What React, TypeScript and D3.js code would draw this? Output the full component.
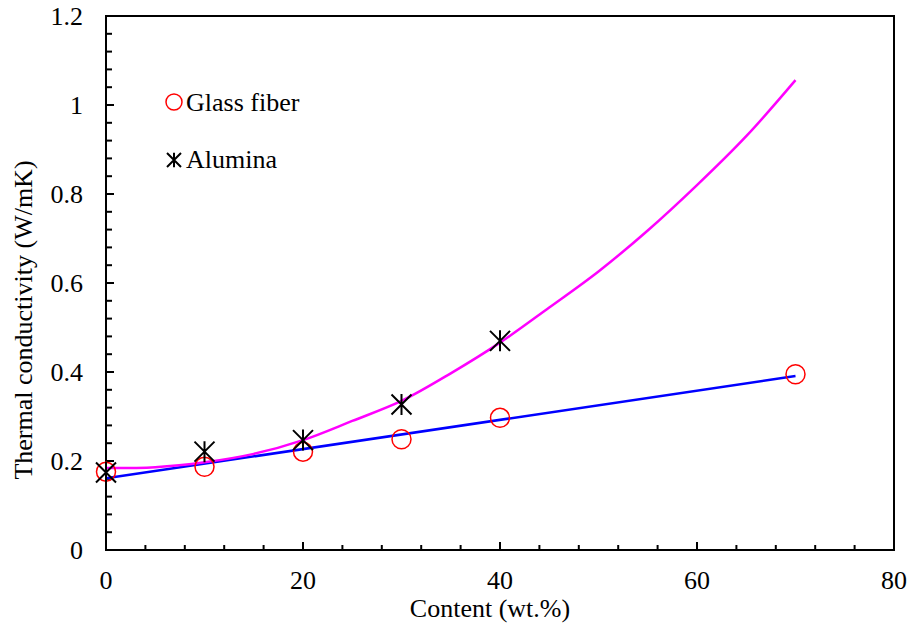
import React, { useEffect, useRef } from "react";
import * as d3 from "d3";

// measured points
const glassX = [0, 10, 20, 30, 40, 70];
const glassY = [0.176, 0.187, 0.221, 0.249, 0.297, 0.395];

const aluminaX = [0, 10, 20, 30, 40];
const aluminaY = [0.174, 0.221, 0.247, 0.327, 0.47];

// trend lines
const glassFitX = [0, 70];
const glassFitY = [0.161, 0.391];

const aluminaFitX = [0, 5, 10, 15, 20, 25, 30, 35, 40, 45, 50, 55, 60, 65, 70];
const aluminaFitY = [
  0.184, 0.186, 0.197, 0.216, 0.247, 0.29, 0.335, 0.397, 0.466, 0.545, 0.626,
  0.718, 0.82, 0.93, 1.056,
];

const xTicks = [0, 20, 40, 60, 80];
const yTicks = [0, 0.2, 0.4, 0.6, 0.8, 1, 1.2];

const App: React.FC = () => {
  const ref = useRef<SVGSVGElement>(null);

  useEffect(() => {
    const width = 913,
      height = 626;
    const left = 106,
      right = 894,
      top = 16,
      bottom = 550;
    const font = "'Liberation Serif', 'Times New Roman', serif";
    const fs = "26px";

    const svg = d3.select(ref.current);
    svg.selectAll("*").remove();
    svg.attr("width", width).attr("height", height);

    const x = d3.scaleLinear().domain([0, 80]).range([left, right]);
    const y = d3.scaleLinear().domain([0, 1.2]).range([bottom, top]);

    // minor ticks (inward)
    const xMinor = d3.range(0, 80.01, 4);
    svg
      .selectAll(".xminor")
      .data(xMinor)
      .enter()
      .append("line")
      .attr("x1", (d) => x(d))
      .attr("x2", (d) => x(d))
      .attr("y1", bottom)
      .attr("y2", (d) => (d % 20 === 0 ? bottom - 8 : bottom - 5))
      .attr("stroke", "#000")
      .attr("stroke-width", 2);

    const yMinor = d3.range(0, 30).map((i) => i * 0.04);
    svg
      .selectAll(".yminor")
      .data(yMinor)
      .enter()
      .append("line")
      .attr("y1", (d) => y(d))
      .attr("y2", (d) => y(d))
      .attr("x1", left)
      .attr("x2", (d, i) => (i % 5 === 0 ? left + 8 : left + 6))
      .attr("stroke", "#000")
      .attr("stroke-width", 2);

    // frame
    svg
      .append("rect")
      .attr("x", left)
      .attr("y", top)
      .attr("width", right - left)
      .attr("height", bottom - top)
      .attr("fill", "none")
      .attr("stroke", "#000")
      .attr("stroke-width", 2);

    // tick labels
    svg
      .selectAll(".xlab")
      .data(xTicks)
      .enter()
      .append("text")
      .attr("x", (d) => x(d))
      .attr("y", 589)
      .attr("text-anchor", "middle")
      .style("font-family", font)
      .style("font-size", fs)
      .text((d) => d);

    svg
      .selectAll(".ylab")
      .data(yTicks)
      .enter()
      .append("text")
      .attr("x", 83)
      .attr("y", (d) => y(d) + 9)
      .attr("text-anchor", "end")
      .style("font-family", font)
      .style("font-size", fs)
      .text((d) => d);

    // axis titles
    svg
      .append("text")
      .attr("x", 490)
      .attr("y", 617)
      .attr("text-anchor", "middle")
      .style("font-family", font)
      .style("font-size", fs)
      .text("Content (wt.%)");

    svg
      .append("text")
      .attr("transform", "translate(32, 320) rotate(-90)")
      .attr("text-anchor", "middle")
      .style("font-family", font)
      .style("font-size", fs)
      .text("Thermal conductivity (W/mK)");

    // trend lines
    const line = d3
      .line<[number, number]>()
      .x((d) => x(d[0]))
      .y((d) => y(d[1]))
      .curve(d3.curveCatmullRom);

    svg
      .append("path")
      .datum(glassFitX.map((v, i) => [v, glassFitY[i]] as [number, number]))
      .attr("d", line)
      .attr("fill", "none")
      .attr("stroke", "#0000ff")
      .attr("stroke-width", 2.5);

    svg
      .append("path")
      .datum(aluminaFitX.map((v, i) => [v, aluminaFitY[i]] as [number, number]))
      .attr("d", line)
      .attr("fill", "none")
      .attr("stroke", "#ff00ff")
      .attr("stroke-width", 2.5);

    // markers
    const asterisk = (s: number) =>
      `M${-s},${-s}L${s},${s}M${-s},${s}L${s},${-s}M0,${-s * 1.05}L0,${s * 1.05}`;

    svg
      .selectAll(".glass")
      .data(glassX)
      .enter()
      .append("circle")
      .attr("cx", (d) => x(d))
      .attr("cy", (d, i) => y(glassY[i]))
      .attr("r", 9.5)
      .attr("fill", "none")
      .attr("stroke", "#ff0000")
      .attr("stroke-width", 1.5);

    svg
      .selectAll(".alumina")
      .data(aluminaX)
      .enter()
      .append("path")
      .attr("transform", (d, i) => `translate(${x(d)},${y(aluminaY[i])})`)
      .attr("d", asterisk(10))
      .attr("fill", "none")
      .attr("stroke", "#000")
      .attr("stroke-width", 2);

    // legend
    svg
      .append("circle")
      .attr("cx", 174)
      .attr("cy", 102)
      .attr("r", 8)
      .attr("fill", "none")
      .attr("stroke", "#ff0000")
      .attr("stroke-width", 1.5);
    svg
      .append("text")
      .attr("x", 186)
      .attr("y", 111)
      .style("font-family", font)
      .style("font-size", fs)
      .text("Glass fiber");

    svg
      .append("path")
      .attr("transform", "translate(174,160)")
      .attr("d", asterisk(7))
      .attr("fill", "none")
      .attr("stroke", "#000")
      .attr("stroke-width", 2);
    svg
      .append("text")
      .attr("x", 186)
      .attr("y", 168)
      .style("font-family", font)
      .style("font-size", fs)
      .text("Alumina");
  }, []);

  return (
    <svg
      ref={ref}
      style={{ position: "absolute", left: 0, top: 0, display: "block" }}
    />
  );
};

export default App;
